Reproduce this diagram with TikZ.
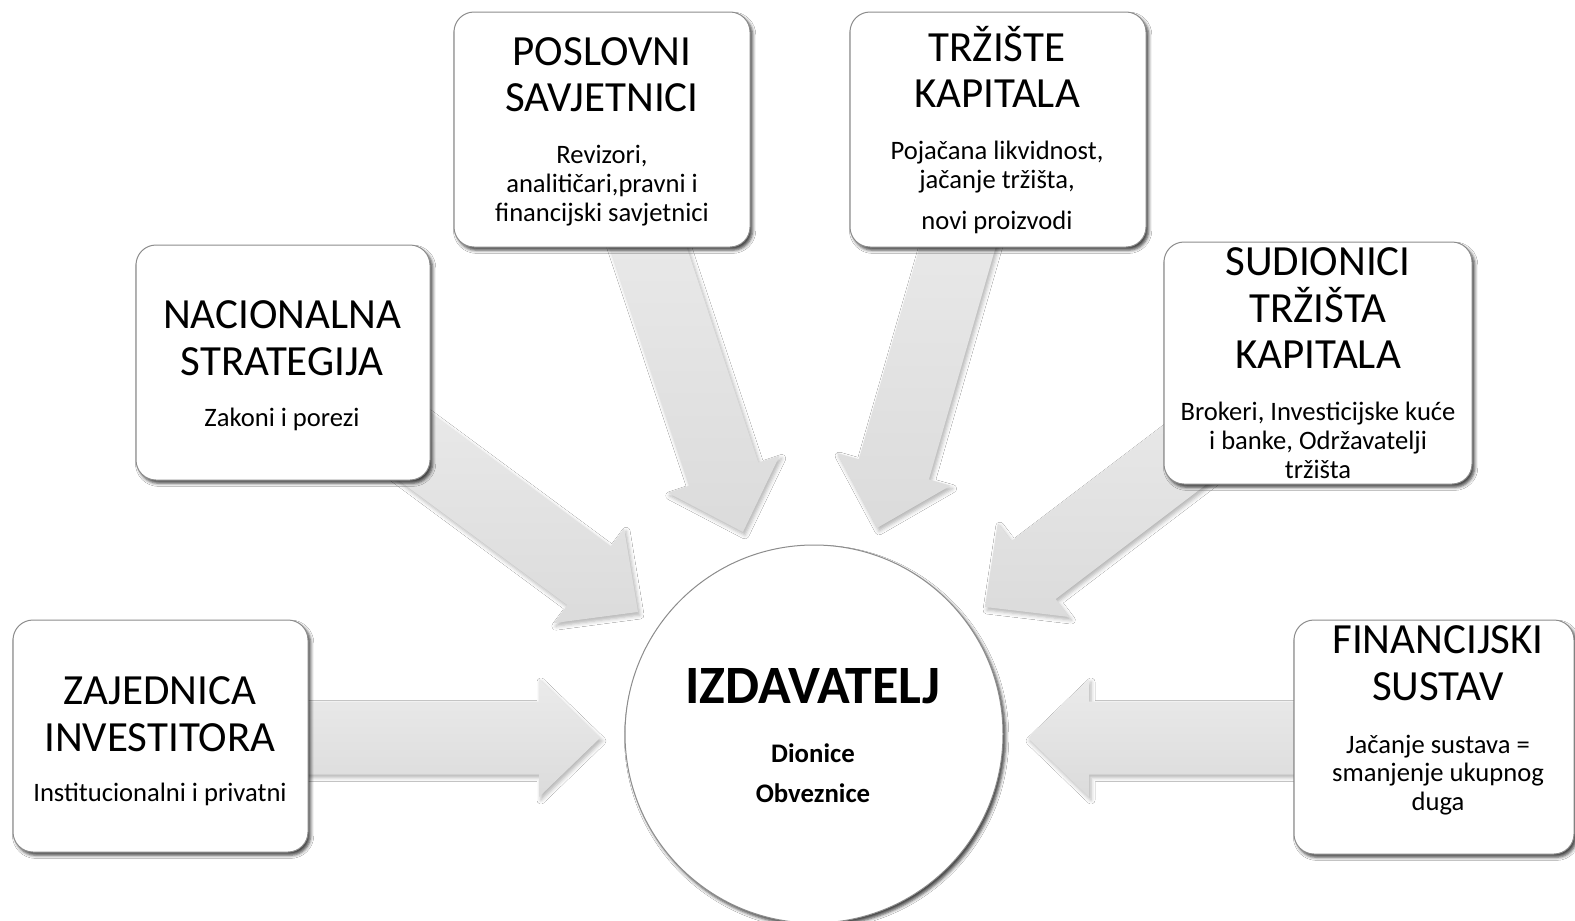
\documentclass[tikz,border=0pt]{standalone}
\usepackage{fontspec}
\setmainfont{Carlito}
\usetikzlibrary{calc,shadows.blur}
\pgfdeclarelayer{background}
\pgfsetlayers{background,main}
\tikzset{
  box/.style={draw=black!45, line width=0.5pt, fill=white, rounded corners=10pt,
    blur shadow={shadow xshift=1.3pt, shadow yshift=-1.6pt, shadow blur radius=1.6pt, shadow opacity=75}},
  hub/.style={circle, draw=black!45, line width=0.5pt, fill=white,
    blur shadow={shadow xshift=1.3pt, shadow yshift=-1.6pt, shadow blur radius=1.6pt, shadow opacity=75}},
  ttl/.style={font=\fontsize{21.5}{23.25}\selectfont, align=center, inner sep=0pt, anchor=base},
  sub/.style={font=\fontsize{13.3}{14.35}\selectfont, align=center, inner sep=0pt, anchor=base},
  bigarrowstyle/.style={top color=black!8, bottom color=black!14,
    blur shadow={shadow xshift=1pt, shadow yshift=-1.5pt, shadow blur radius=2pt, shadow opacity=30}},
}
\newcommand\myblockarrow[2]{%
  \coordinate (#1b) at ($(#2)!30.5pt!(#1)$);
  \path[bigarrowstyle] ($(#1)!18.25pt!90:(#2)$) -- ($(#1b)!18.25pt!90:(#2)$)
    -- ($(#1b)!29.5pt!90:(#2)$) -- (#2) -- ($(#1b)!29.5pt!-90:(#2)$)
    -- ($(#1b)!18.25pt!-90:(#2)$) -- ($(#1)!18.25pt!-90:(#2)$) -- cycle;
}
\begin{document}
\begin{tikzpicture}[x=0.5pt,y=-0.5pt]
\clip (0,0) rectangle (1575,921);
\useasboundingbox (0,0) rectangle (1575,921);

% boxes
\node[box, minimum width=147.5pt, minimum height=116pt] (zaj) at (160.5,736) {};
\node[box, minimum width=147pt, minimum height=117.5pt] (nac) at (283,362.5) {};
\node[box, minimum width=148pt, minimum height=117.5pt] (pos) at (602,129.5) {};
\node[box, minimum width=148pt, minimum height=117.5pt] (trz) at (998,129.5) {};
\node[box, minimum width=154pt, minimum height=121pt] (sud) at (1318,363) {};
\node[box, minimum width=140pt, minimum height=117pt] (fin) at (1434,737) {};
\node[hub, minimum size=189pt] (izd) at (814,734) {};

% texts (anchor base = baseline of last line)
\node[ttl] (zajT) at (160,751) {ZAJEDNICA\\INVESTITORA};
\node[sub] (zajS) at (160,801) {Institucionalni i privatni};
\node[ttl] (nacT) at (282,375) {NACIONALNA\\STRATEGIJA};
\node[sub] (nacS) at (282,426) {Zakoni i porezi};
\node[ttl] (posT) at (602,111.5) {POSLOVNI\\SAVJETNICI};
\node[sub] (posS) at (602,221) {Revizori,\\analitičari,pravni i\\financijski savjetnici};
\node[ttl] (trzT) at (997,107.5) {TRŽIŠTE\\KAPITALA};
\node[sub] (trzS) at (997,229) {Pojačana likvidnost,\\jačanje tržišta,\\[6pt]novi proizvodi};
\node[ttl] (sudT) at (1318,368.6) {SUDIONICI\\TRŽIŠTA\\KAPITALA};
\node[sub] (sudS) at (1318,478) {Brokeri, Investicijske kuće\\i banke, Održavatelji\\tržišta};
\node[ttl] (finT) at (1438,700) {FINANCIJSKI\\SUSTAV};
\node[sub] (finS) at (1438,810.6) {Jačanje sustava =\\smanjenje ukupnog\\duga};
\node[font=\bfseries\fontsize{27}{30}\selectfont, inner sep=0pt, anchor=base] (izdT) at (813,703) {IZDAVATELJ};
\node[font=\bfseries\fontsize{13.4}{20}\selectfont, align=center, inner sep=0pt, anchor=base] (izdS) at (813,802) {Dionice\\Obveznice};

% arrow anchors
\coordinate (sZ) at (200,738);
\coordinate (tZ) at (600,738);
\coordinate (sN) at (357,404);
\coordinate (tN) at (638,612);
\coordinate (sP) at (632.5,200);
\coordinate (tP) at (743,532);
\coordinate (sT) at (973.5,192);
\coordinate (tT) at (877,528);
\coordinate (sS) at (1263.6,395);
\coordinate (tS) at (985,607);
\coordinate (sF) at (1400,738);
\coordinate (tF) at (1028,738);

\begin{pgfonlayer}{background}
\fill[white] (0,0) rectangle (1575,921);
\myblockarrow{sZ}{tZ}
\myblockarrow{sN}{tN}
\myblockarrow{sP}{tP}
\myblockarrow{sT}{tT}
\myblockarrow{sS}{tS}
\myblockarrow{sF}{tF}
\end{pgfonlayer}
\end{tikzpicture}
\end{document}
